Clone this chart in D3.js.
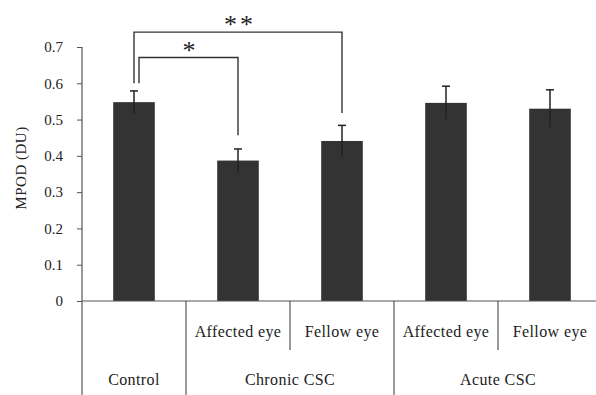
<!DOCTYPE html>
<html>
<head>
<meta charset="utf-8">
<script src="https://cdn.jsdelivr.net/npm/d3@7"></script>
<style>
  body { margin: 0; background: #fff; }
  text { font-family: "Liberation Serif", "DejaVu Serif", serif; fill: #222; }
</style>
</head>
<body>
<div id="chart"></div>
<script>
var groups = ["Control", "Chronic CSC", "Acute CSC"];
var groupSpans = [1, 2, 2];
var subLabels = ["", "Affected eye", "Fellow eye", "Affected eye", "Fellow eye"];
var means = [0.548, 0.387, 0.441, 0.546, 0.530];
var errors = [0.031, 0.032, 0.043, 0.046, 0.052];
var yTicks = [0, 0.1, 0.2, 0.3, 0.4, 0.5, 0.6, 0.7];
// brackets: from bar, to bar, top value, left-end value, right-end value, label
var brackets = [
  {from: 0, to: 2, top: 0.741, left: 0.6, right: 0.518, label: "**"},
  {from: 0, to: 1, top: 0.671, left: 0.6, right: 0.457, label: "*"}
];

var width = 596, height = 395;
var left = 82, right = 602, baseY = 301, topY = 47;

var svg = d3.select("#chart").append("svg")
  .attr("width", width).attr("height", height);

var x = d3.scaleBand().domain(d3.range(means.length))
  .range([left, right]).paddingInner(0.6).paddingOuter(0.3);
var xStep = d3.scaleBand().domain(d3.range(means.length)).range([left, right]);
var y = d3.scaleLinear().domain([0, 0.7]).range([baseY, topY]);

var lineColor = "#555";

// y axis
var yAxis = svg.append("g").attr("transform", "translate(" + left + ",0)")
  .call(d3.axisLeft(y).tickValues(yTicks).tickSize(5).tickPadding(14)
    .tickFormat(function(d) { return d === 0 ? "0" : d3.format(".1f")(d); }));
yAxis.select(".domain").remove();
yAxis.selectAll(".tick line").attr("stroke", lineColor);
yAxis.selectAll(".tick text").style("font-size", "15px").attr("fill", "#222");
svg.append("line").attr("x1", left).attr("x2", left)
  .attr("y1", y(0.7)).attr("y2", height)
  .attr("stroke", lineColor).attr("stroke-width", 1.2);

svg.append("text")
  .attr("transform", "translate(26,168) rotate(-90)")
  .attr("text-anchor", "middle")
  .style("font-size", "15px")
  .style("letter-spacing", "0.5px")
  .text("MPOD (DU)");

// bars
svg.selectAll("rect.bar").data(means).enter().append("rect")
  .attr("class", "bar")
  .attr("x", function(d, i) { return x(i); })
  .attr("width", x.bandwidth())
  .attr("y", function(d) { return y(d); })
  .attr("height", function(d) { return y(0) - y(d); })
  .attr("fill", "#333");

// error bars
var eb = svg.selectAll("g.err").data(means).enter().append("g").attr("class", "err");
eb.append("line")
  .attr("x1", function(d, i) { return x(i) + x.bandwidth() / 2; })
  .attr("x2", function(d, i) { return x(i) + x.bandwidth() / 2; })
  .attr("y1", function(d, i) { return y(d - errors[i]); })
  .attr("y2", function(d, i) { return y(d + errors[i]); })
  .attr("stroke", "#222").attr("stroke-width", 1.5);
eb.append("line")
  .attr("x1", function(d, i) { return x(i) + x.bandwidth() / 2 - 4; })
  .attr("x2", function(d, i) { return x(i) + x.bandwidth() / 2 + 4; })
  .attr("y1", function(d, i) { return y(d + errors[i]); })
  .attr("y2", function(d, i) { return y(d + errors[i]); })
  .attr("stroke", "#222").attr("stroke-width", 1.5);

// baseline
svg.append("line").attr("x1", left).attr("x2", width)
  .attr("y1", y(0)).attr("y2", y(0))
  .attr("stroke", lineColor).attr("stroke-width", 1.2);

// category table below axis
var bounds = [];
var idx = 0;
groupSpans.forEach(function(s) { bounds.push(idx); idx += s; });
bounds.push(idx);
for (var i = 1; i < means.length; i++) {
  var isGroupEdge = bounds.indexOf(i) >= 0;
  svg.append("line")
    .attr("x1", xStep(i)).attr("x2", xStep(i))
    .attr("y1", y(0)).attr("y2", isGroupEdge ? height : 350)
    .attr("stroke", lineColor).attr("stroke-width", 1.2);
}
svg.selectAll("text.sub").data(subLabels).enter().append("text")
  .attr("class", "sub")
  .attr("x", function(d, i) { return xStep(i) + xStep.bandwidth() / 2; })
  .attr("y", 337)
  .attr("text-anchor", "middle")
  .style("font-size", "16px")
  .style("letter-spacing", "0.4px")
  .text(function(d) { return d; });
svg.selectAll("text.grp").data(groups).enter().append("text")
  .attr("class", "grp")
  .attr("x", function(d, i) { return (xStep(bounds[i]) + xStep(bounds[i + 1] - 1) + xStep.bandwidth()) / 2; })
  .attr("y", 385)
  .attr("text-anchor", "middle")
  .style("font-size", "16px")
  .style("letter-spacing", "0.4px")
  .text(function(d) { return d; });

// significance brackets
brackets.forEach(function(b, k) {
  var xa = x(b.from) + x.bandwidth() / 2 + (k === 1 ? 5 : 0);
  var xb = x(b.to) + x.bandwidth() / 2;
  svg.append("path")
    .attr("d", "M" + xa + "," + y(b.left) + "V" + y(b.top) + "H" + xb + "V" + y(b.right))
    .attr("fill", "none").attr("stroke", "#333").attr("stroke-width", 1.4);
  svg.append("text")
    .attr("x", (xa + xb) / 2 + 2)
    .attr("y", y(b.top) + 1)
    .attr("text-anchor", "middle")
    .style("font-size", "26px")
    .style("letter-spacing", "3px")
    .text(b.label);
});
</script>
</body>
</html>
